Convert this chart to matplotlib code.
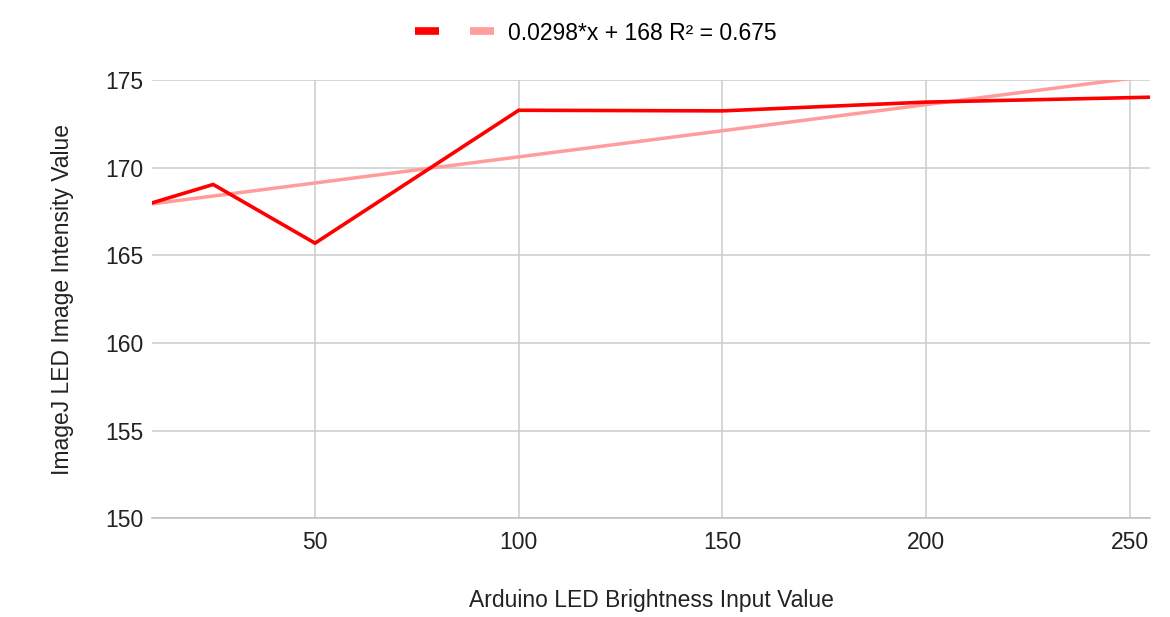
import numpy as np
import matplotlib
matplotlib.use("Agg")
import matplotlib.pyplot as plt
from matplotlib.lines import Line2D

# Arduino PWM input vs. mean intensity measured in ImageJ
brightness_input = [10, 25, 50, 100, 150, 200, 255]
image_intensity = [168.0, 169.05, 165.7, 173.285, 173.25, 173.75, 174.03]

x_ticks = [50, 100, 150, 200, 250]
y_ticks = [150, 155, 160, 165, 170, 175]

plt.rcParams['font.family'] = ['Liberation Sans', 'DejaVu Sans']

x = np.array(brightness_input, dtype=float)
y = np.array(image_intensity, dtype=float)
slope, intercept = np.polyfit(x, y, 1)
pred = slope * x + intercept
r2 = 1 - np.sum((y - pred) ** 2) / np.sum((y - y.mean()) ** 2)
trend_label = f"{slope:.3g}*x + {intercept:.3g} R\u00b2 = {r2:.3g}"

fig = plt.figure(figsize=(11.7, 6.17), dpi=100)
ax = fig.add_axes([0.13, 0.160, 0.853, 0.710])

series_color = "#ff0000"
trend_color = "#ff9c9c"
text_color = "#222222"

xs = np.linspace(x.min(), x.max(), 200)
ax.plot(xs, slope * xs + intercept, color=trend_color, lw=2.5, zorder=3,
        solid_capstyle="butt")
ax.plot(x, y, color=series_color, lw=2.6, zorder=4, solid_joinstyle="miter")

ax.set_xlim(10, 255)
ax.set_ylim(150, 175)
ax.set_xticks(x_ticks)
ax.set_yticks(y_ticks)
ax.grid(True, color="#cccccc", lw=1.1)
ax.set_axisbelow(True)
for s in ["top", "right", "left"]:
    ax.spines[s].set_visible(False)
ax.spines["bottom"].set_color("#bdbdbd")
ax.spines["bottom"].set_linewidth(1.1)
ax.tick_params(length=0, labelsize=16.5, colors=text_color)
ax.tick_params(axis="y", pad=6.5)
ax.tick_params(axis="x", pad=9.5)

ax.set_xlabel("Arduino LED Brightness Input Value", fontsize=16.5,
              color=text_color)
ax.set_ylabel("ImageJ LED Image Intensity Value", fontsize=16.5,
              color=text_color)
ax.xaxis.label.set_va("center")
ax.yaxis.label.set_va("center")
ax.xaxis.set_label_coords(0.5, -0.187)
ax.yaxis.set_label_coords(-0.090, 0.5)

handles = [Line2D([], [], color=series_color, lw=5.5, solid_capstyle="butt"),
           Line2D([], [], color=trend_color, lw=5.5, solid_capstyle="butt")]
fig.legend(handles, ["", trend_label], loc="center", ncol=2,
           bbox_to_anchor=(0.509, 0.9465), frameon=False, fontsize=16.5,
           handlelength=1.05, handletextpad=0.6, columnspacing=0.75)

fig.savefig("out.png", dpi=100, facecolor="white")
